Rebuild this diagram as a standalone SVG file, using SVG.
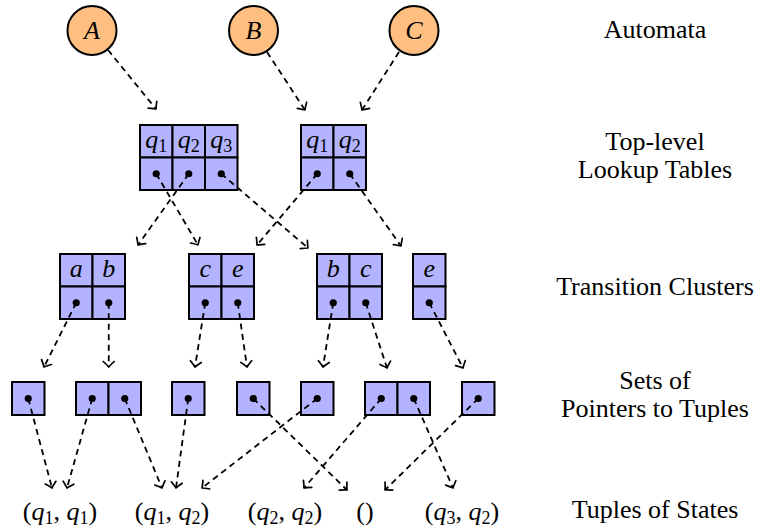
<svg xmlns="http://www.w3.org/2000/svg" width="760" height="530" viewBox="0 0 760 530" font-family="Liberation Serif, serif">
<style>
.bg{fill:#fff}
.cell{fill:#B3B3FF;stroke:#000;stroke-width:2}
.aut{fill:#FFBF80;stroke:#000;stroke-width:2}
.dot{fill:#000}
.t{font-family:'Liberation Serif',serif;font-size:26px;fill:#000}
.i{font-style:italic}
.s{font-size:18px}
.e{stroke:#000;stroke-width:1.8;stroke-dasharray:6 4.5;fill:none}
.ah{fill:none;stroke:#000;stroke-width:1.7;stroke-linecap:round;stroke-linejoin:round}
</style>
<defs>
<marker id="arr" viewBox="-8 -7 10 14" refX="0" refY="0" markerWidth="10" markerHeight="14" orient="auto" markerUnits="userSpaceOnUse">
<path class="ah" d="M-5.5,-5.5 Q-1.5,-1.2 0,0 Q-1.5,1.2 -5.5,5.5"/>
</marker>
</defs>
<rect class="bg" x="0" y="0" width="760" height="530"/>

<!-- Automata -->
<g id="autA"><circle class="aut" cx="92" cy="30.5" r="24.5"/><text class="t i" x="92" y="39" text-anchor="middle">A</text></g>
<g id="autB"><circle class="aut" cx="253.5" cy="30.5" r="24.5"/><text class="t i" x="253.5" y="39" text-anchor="middle">B</text></g>
<g id="autC"><circle class="aut" cx="414" cy="30.5" r="24.5"/><text class="t i" x="414" y="39" text-anchor="middle">C</text></g>

<!-- Top-level lookup tables -->
<g id="table1">
<rect class="cell" x="140" y="125" width="32.5" height="32.5"/>
<rect class="cell" x="172.5" y="125" width="32.5" height="32.5"/>
<rect class="cell" x="205" y="125" width="32.5" height="32.5"/>
<rect class="cell" x="140" y="157.5" width="32.5" height="32.5"/>
<rect class="cell" x="172.5" y="157.5" width="32.5" height="32.5"/>
<rect class="cell" x="205" y="157.5" width="32.5" height="32.5"/>
<text class="t" x="156.25" y="147.5" text-anchor="middle"><tspan class="i">q</tspan><tspan class="s" dy="4">1</tspan></text>
<text class="t" x="188.75" y="147.5" text-anchor="middle"><tspan class="i">q</tspan><tspan class="s" dy="4">2</tspan></text>
<text class="t" x="221.25" y="147.5" text-anchor="middle"><tspan class="i">q</tspan><tspan class="s" dy="4">3</tspan></text>
<circle class="dot" cx="156.25" cy="173.75" r="3.6"/>
<circle class="dot" cx="188.75" cy="173.75" r="3.6"/>
<circle class="dot" cx="221.25" cy="173.75" r="3.6"/>
</g>
<g id="table2">
<rect class="cell" x="301" y="125" width="32.5" height="32.5"/>
<rect class="cell" x="333.5" y="125" width="32.5" height="32.5"/>
<rect class="cell" x="301" y="157.5" width="32.5" height="32.5"/>
<rect class="cell" x="333.5" y="157.5" width="32.5" height="32.5"/>
<text class="t" x="317.25" y="147.5" text-anchor="middle"><tspan class="i">q</tspan><tspan class="s" dy="4">1</tspan></text>
<text class="t" x="349.75" y="147.5" text-anchor="middle"><tspan class="i">q</tspan><tspan class="s" dy="4">2</tspan></text>
<circle class="dot" cx="317.25" cy="173.75" r="3.6"/>
<circle class="dot" cx="349.75" cy="173.75" r="3.6"/>
</g>

<!-- Transition clusters -->
<g id="cluster1">
<rect class="cell" x="60" y="254" width="32.5" height="32.5"/>
<rect class="cell" x="92.5" y="254" width="32.5" height="32.5"/>
<rect class="cell" x="60" y="286.5" width="32.5" height="32.5"/>
<rect class="cell" x="92.5" y="286.5" width="32.5" height="32.5"/>
<text class="t i" x="76.25" y="277" text-anchor="middle">a</text>
<text class="t i" x="108.75" y="277" text-anchor="middle">b</text>
<circle class="dot" cx="76.25" cy="302.75" r="3.6"/>
<circle class="dot" cx="108.75" cy="302.75" r="3.6"/>
</g>
<g id="cluster2">
<rect class="cell" x="189" y="254" width="32.5" height="32.5"/>
<rect class="cell" x="221.5" y="254" width="32.5" height="32.5"/>
<rect class="cell" x="189" y="286.5" width="32.5" height="32.5"/>
<rect class="cell" x="221.5" y="286.5" width="32.5" height="32.5"/>
<text class="t i" x="205.25" y="277" text-anchor="middle">c</text>
<text class="t i" x="237.75" y="277" text-anchor="middle">e</text>
<circle class="dot" cx="205.25" cy="302.75" r="3.6"/>
<circle class="dot" cx="237.75" cy="302.75" r="3.6"/>
</g>
<g id="cluster3">
<rect class="cell" x="317" y="254" width="32.5" height="32.5"/>
<rect class="cell" x="349.5" y="254" width="32.5" height="32.5"/>
<rect class="cell" x="317" y="286.5" width="32.5" height="32.5"/>
<rect class="cell" x="349.5" y="286.5" width="32.5" height="32.5"/>
<text class="t i" x="333.25" y="277" text-anchor="middle">b</text>
<text class="t i" x="365.75" y="277" text-anchor="middle">c</text>
<circle class="dot" cx="333.25" cy="302.75" r="3.6"/>
<circle class="dot" cx="365.75" cy="302.75" r="3.6"/>
</g>
<g id="cluster4">
<rect class="cell" x="413" y="254" width="32.5" height="32.5"/>
<rect class="cell" x="413" y="286.5" width="32.5" height="32.5"/>
<text class="t i" x="429.25" y="277" text-anchor="middle">e</text>
<circle class="dot" cx="429.25" cy="302.75" r="3.6"/>
</g>

<!-- Sets of pointers -->
<g id="set1"><rect class="cell" x="12" y="382" width="32.5" height="33"/><circle class="dot" cx="28.25" cy="398.5" r="3.6"/></g>
<g id="set2"><rect class="cell" x="76" y="382" width="32.5" height="33"/><rect class="cell" x="108.5" y="382" width="32.5" height="33"/><circle class="dot" cx="92.25" cy="398.5" r="3.6"/><circle class="dot" cx="124.75" cy="398.5" r="3.6"/></g>
<g id="set3"><rect class="cell" x="172" y="382" width="32.5" height="33"/><circle class="dot" cx="188.25" cy="398.5" r="3.6"/></g>
<g id="set4"><rect class="cell" x="237" y="382" width="32.5" height="33"/><circle class="dot" cx="253.25" cy="398.5" r="3.6"/></g>
<g id="set5"><rect class="cell" x="301" y="382" width="32.5" height="33"/><circle class="dot" cx="317.25" cy="398.5" r="3.6"/></g>
<g id="set6"><rect class="cell" x="365" y="382" width="32.5" height="33"/><rect class="cell" x="397.5" y="382" width="32.5" height="33"/><circle class="dot" cx="381.25" cy="398.5" r="3.6"/><circle class="dot" cx="413.75" cy="398.5" r="3.6"/></g>
<g id="set7"><rect class="cell" x="462" y="382" width="32.5" height="33"/><circle class="dot" cx="478.25" cy="398.5" r="3.6"/></g>

<!-- Tuples -->
<g id="tuple11"><text class="t" x="60" y="520" text-anchor="middle">(<tspan class="i">q</tspan><tspan class="s" dy="4">1</tspan><tspan dy="-4">, </tspan><tspan class="i">q</tspan><tspan class="s" dy="4">1</tspan><tspan dy="-4">)</tspan></text></g>
<g id="tuple12"><text class="t" x="172" y="520" text-anchor="middle">(<tspan class="i">q</tspan><tspan class="s" dy="4">1</tspan><tspan dy="-4">, </tspan><tspan class="i">q</tspan><tspan class="s" dy="4">2</tspan><tspan dy="-4">)</tspan></text></g>
<g id="tuple22"><text class="t" x="285" y="520" text-anchor="middle">(<tspan class="i">q</tspan><tspan class="s" dy="4">2</tspan><tspan dy="-4">, </tspan><tspan class="i">q</tspan><tspan class="s" dy="4">2</tspan><tspan dy="-4">)</tspan></text></g>
<g id="tupleEmpty"><text class="t" x="365" y="520" text-anchor="middle">()</text></g>
<g id="tuple32"><text class="t" x="462" y="520" text-anchor="middle">(<tspan class="i">q</tspan><tspan class="s" dy="4">3</tspan><tspan dy="-4">, </tspan><tspan class="i">q</tspan><tspan class="s" dy="4">2</tspan><tspan dy="-4">)</tspan></text></g>

<!-- Row labels -->
<g id="labels">
<text class="t" x="655" y="38" text-anchor="middle">Automata</text>
<text class="t" x="655" y="150" text-anchor="middle">Top-level</text>
<text class="t" x="655" y="178" text-anchor="middle">Lookup Tables</text>
<text class="t" x="655" y="295" text-anchor="middle">Transition Clusters</text>
<text class="t" x="655" y="389" text-anchor="middle">Sets of</text>
<text class="t" x="655" y="417" text-anchor="middle">Pointers to Tuples</text>
<text class="t" x="655" y="518" text-anchor="middle">Tuples of States</text>
</g>

<!-- Connectors -->
<g id="connectors">
<path class="e" marker-end="url(#arr)" d="M108,50 L156,109"/>
<path class="e" marker-end="url(#arr)" d="M267,52 L305,110"/>
<path class="e" marker-end="url(#arr)" d="M399,52 L362,110"/>

<path class="e" marker-end="url(#arr)" d="M156.25,173.75 L198,245"/>
<path class="e" marker-end="url(#arr)" d="M188.75,173.75 L138,245"/>
<path class="e" marker-end="url(#arr)" d="M221.25,173.75 L308,248"/>
<path class="e" marker-end="url(#arr)" d="M317.25,173.75 L257,245"/>
<path class="e" marker-end="url(#arr)" d="M349.75,173.75 L401,246"/>

<path class="e" marker-end="url(#arr)" d="M76.25,302.75 L44,367"/>
<path class="e" marker-end="url(#arr)" d="M108.75,302.75 L108.75,367"/>
<path class="e" marker-end="url(#arr)" d="M205.25,302.75 L195,367"/>
<path class="e" marker-end="url(#arr)" d="M237.75,302.75 L247,367"/>
<path class="e" marker-end="url(#arr)" d="M333.25,302.75 L323,367"/>
<path class="e" marker-end="url(#arr)" d="M365.75,302.75 L387,368"/>
<path class="e" marker-end="url(#arr)" d="M429.25,302.75 L463,368"/>

<path class="e" marker-end="url(#arr)" d="M28.25,398.5 L52,488"/>
<path class="e" marker-end="url(#arr)" d="M92.25,398.5 L67,488"/>
<path class="e" marker-end="url(#arr)" d="M124.75,398.5 L162,488"/>
<path class="e" marker-end="url(#arr)" d="M188.25,398.5 L176,488"/>
<path class="e" marker-end="url(#arr)" d="M253.25,398.5 L347,490"/>
<path class="e" marker-end="url(#arr)" d="M317.25,398.5 L202,488"/>
<path class="e" marker-end="url(#arr)" d="M381.25,398.5 L304,488"/>
<path class="e" marker-end="url(#arr)" d="M413.75,398.5 L453,488"/>
<path class="e" marker-end="url(#arr)" d="M478.25,398.5 L385,490"/>
</g>
</svg>
